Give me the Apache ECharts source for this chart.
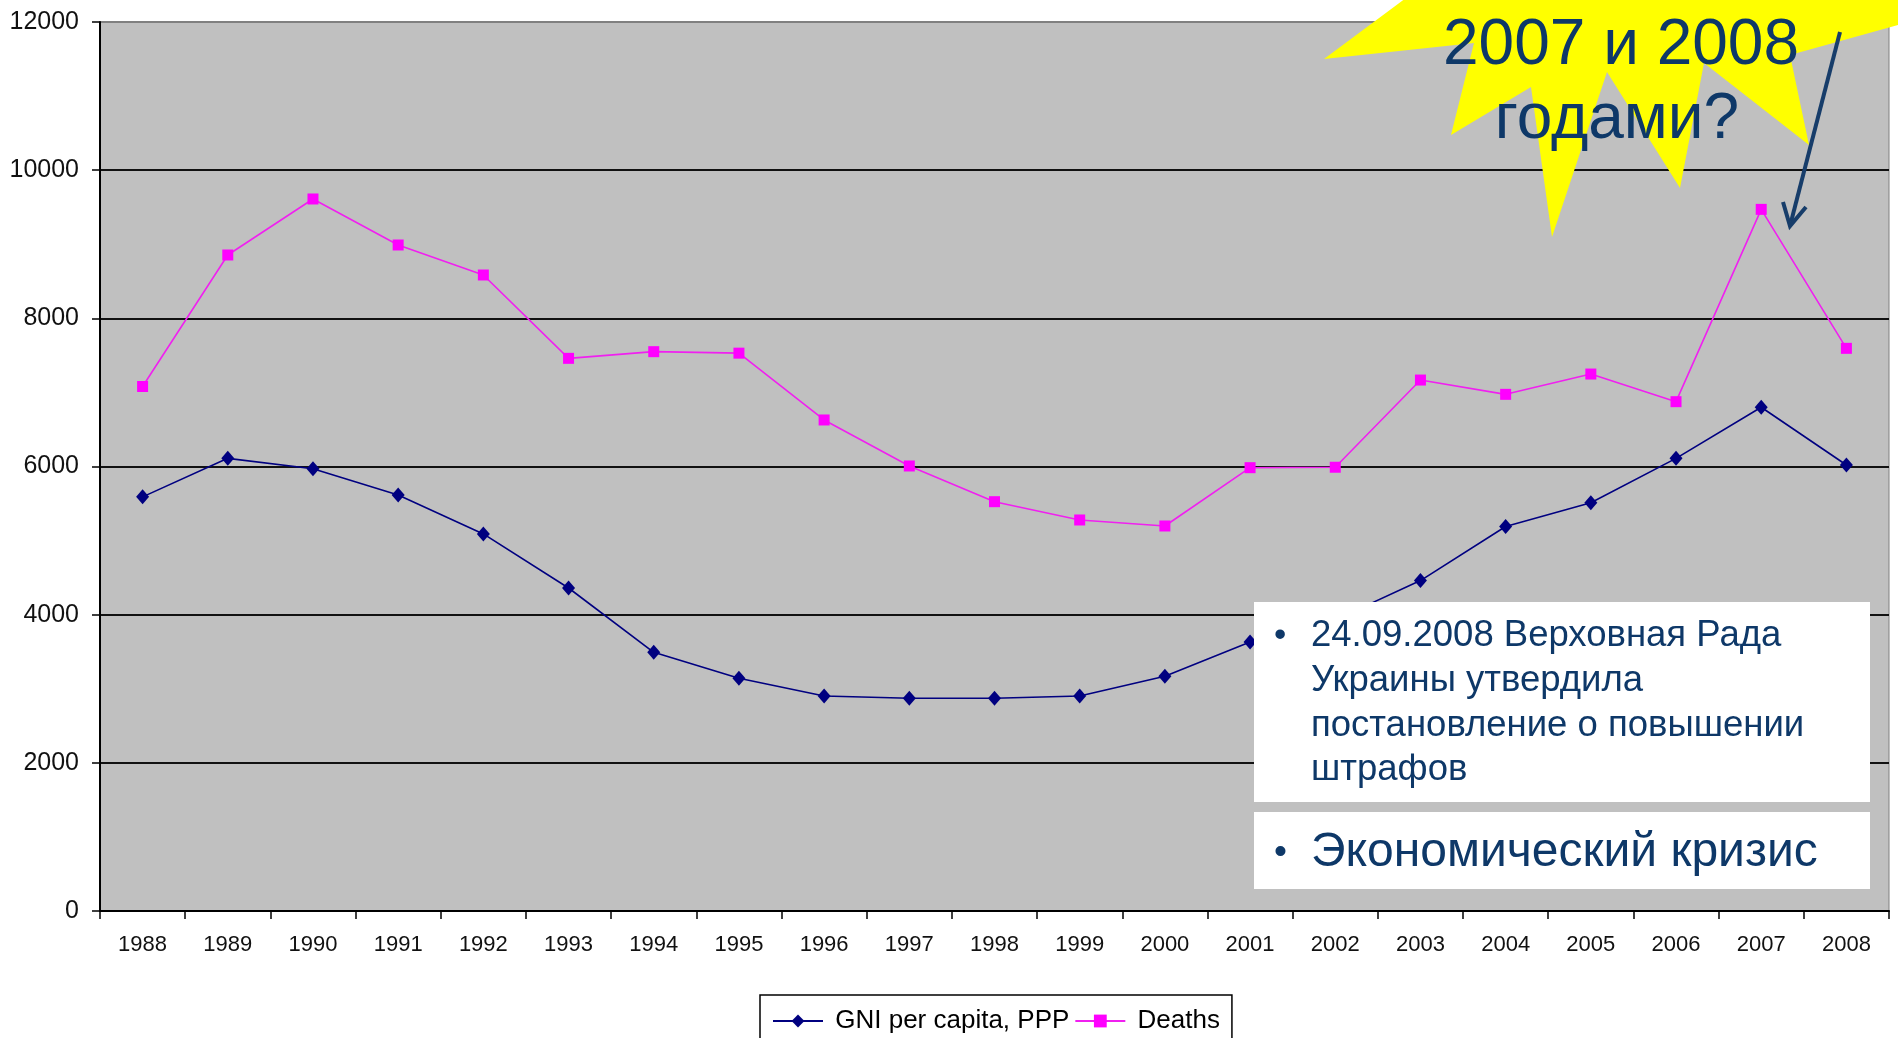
<!DOCTYPE html>
<html>
<head>
<meta charset="utf-8">
<script src="https://cdn.jsdelivr.net/npm/echarts@6/dist/echarts.min.js"></script>
<style>
html,body{margin:0;padding:0;background:#fff;}
#chart{width:1898px;height:1038px;}
</style>
</head>
<body>
<div id="chart"></div>
<script>
const years = ['1988','1989','1990','1991','1992','1993','1994','1995','1996','1997','1998','1999','2000','2001','2002','2003','2004','2005','2006','2007','2008'];
const gniPerCapita = [5590, 6110, 5970, 5615, 5090, 4360, 3492, 3141, 2902, 2871, 2871, 2902, 3170, 3630, 3930, 4460, 5190, 5511, 6110, 6800, 6020];
const deaths = [7080, 8855, 9611, 8990, 8585, 7460, 7550, 7530, 6628, 6007, 5525, 5278, 5197, 5984, 5990, 7167, 6974, 7248, 6875, 9471, 7595];
const yTicks = {min: 0, max: 12000, interval: 2000};
const seriesNames = ['GNI per capita, PPP', 'Deaths'];
const calloutLines = ['2007 и 2008', 'годами?'];
const box1Lines = ['24.09.2008 Верховная Рада', 'Украины утвердила', 'постановление о повышении', 'штрафов'];
const box2Line = 'Экономический кризис';

const FONT = '"Liberation Sans", Arial, sans-serif';
const NAVY_TEXT = '#0E3868';

const chart = echarts.init(document.getElementById('chart'), null, {renderer: 'canvas'});

const graphics = [
  {
    type: 'polygon', z: 50, silent: true,
    shape: {points: [[1410,-5],[1324,59],[1474,43],[1451,135],[1531,87],[1552,237],[1607,72],[1680,188],[1704,63],[1809,145],[1790,55],[1898,25],[1898,-5]]},
    style: {fill: '#FFFF00'}
  },
  {
    type: 'text', z: 60, silent: true,
    style: {text: calloutLines[0], x: 1621, y: 46, fill: NAVY_TEXT, fontSize: 64, fontFamily: FONT, align: 'center', verticalAlign: 'middle'}
  },
  {
    type: 'text', z: 60, silent: true,
    style: {text: calloutLines[1], x: 1617, y: 120, fill: NAVY_TEXT, fontSize: 64, fontFamily: FONT, align: 'center', verticalAlign: 'middle'}
  },
  {
    type: 'polyline', z: 70, silent: true,
    shape: {points: [[1840,32],[1791,222]]},
    style: {stroke: '#173D6A', lineWidth: 4}
  },
  {
    type: 'polyline', z: 70, silent: true,
    shape: {points: [[1783,202],[1790,226],[1806,207]]},
    style: {stroke: '#173D6A', lineWidth: 4, fill: null, lineJoin: 'miter'}
  },
  {
    type: 'rect', z: 50, silent: true,
    shape: {x: 1254, y: 602, width: 616, height: 200},
    style: {fill: '#FFFFFF'}
  },
  {
    type: 'rect', z: 50, silent: true,
    shape: {x: 1254, y: 812, width: 616, height: 77},
    style: {fill: '#FFFFFF'}
  },
  {
    type: 'text', z: 60, silent: true,
    style: {text: '•', x: 1274, y: 636, fill: NAVY_TEXT, fontSize: 35, fontFamily: FONT, align: 'left', verticalAlign: 'middle'}
  },
  {
    type: 'text', z: 60, silent: true,
    style: {text: '•', x: 1274, y: 853, fill: NAVY_TEXT, fontSize: 37, fontFamily: FONT, align: 'left', verticalAlign: 'middle'}
  },
  {
    type: 'text', z: 60, silent: true,
    style: {text: box2Line, x: 1311, y: 853, fill: NAVY_TEXT, fontSize: 48, fontFamily: FONT, align: 'left', verticalAlign: 'middle'}
  }
];
box1Lines.forEach(function (line, i) {
  graphics.push({
    type: 'text', z: 60, silent: true,
    style: {text: line, x: 1311, y: 636 + i * 44.8, fill: NAVY_TEXT, fontSize: 36.5, fontFamily: FONT, align: 'left', verticalAlign: 'middle'}
  });
});

const option = {
  backgroundColor: '#FFFFFF',
  animation: false,
  textStyle: {fontFamily: FONT},
  grid: {
    left: 100, right: 9, top: 22, bottom: 127,
    show: true, backgroundColor: '#C0C0C0', borderColor: '#808080', borderWidth: 1
  },
  legend: {
    data: seriesNames,
    left: 760, top: 995,
    orient: 'horizontal',
    padding: [13, 12, 14, 12],
    itemGap: 5,
    itemWidth: 50, itemHeight: 16,
    borderColor: '#000', borderWidth: 1.5,
    backgroundColor: '#FFFFFF',
    formatter: function (n) { return ' ' + n; },
    textStyle: {fontSize: 26, color: '#000', fontFamily: FONT}
  },
  xAxis: {
    type: 'category',
    data: years,
    boundaryGap: true,
    axisLine: {show: true, lineStyle: {color: '#000', width: 2}},
    axisTick: {show: true, alignWithLabel: false, inside: false, length: 8, lineStyle: {color: '#000', width: 1.5}},
    axisLabel: {fontSize: 22, color: '#111', margin: 23, fontFamily: FONT, interval: 0},
    splitLine: {show: false}
  },
  yAxis: {
    type: 'value',
    min: yTicks.min, max: yTicks.max, interval: yTicks.interval,
    axisLine: {show: true, lineStyle: {color: '#000', width: 2}},
    axisTick: {show: true, inside: false, length: 8, lineStyle: {color: '#000', width: 1.5}},
    axisLabel: {fontSize: 25, color: '#111', margin: 21, fontFamily: FONT, formatter: function (v) { return String(v); }},
    splitLine: {show: true, lineStyle: {color: ['#000','#111','#111','#111','#111','#111','#808080'], width: 2}}
  },
  series: [
    {
      name: seriesNames[0],
      type: 'line',
      data: gniPerCapita,
      symbol: 'diamond',
      symbolSize: [13, 15],
      showAllSymbol: true,
      itemStyle: {color: '#000080'},
      lineStyle: {color: '#000080', width: 1.6},
      z: 3
    },
    {
      name: seriesNames[1],
      type: 'line',
      data: deaths,
      symbol: 'rect',
      symbolSize: 11,
      showAllSymbol: true,
      itemStyle: {color: '#FF00FF'},
      lineStyle: {color: '#F020F0', width: 1.6},
      z: 3
    }
  ],
  graphic: graphics
};
chart.setOption(option);
</script>
</body>
</html>
